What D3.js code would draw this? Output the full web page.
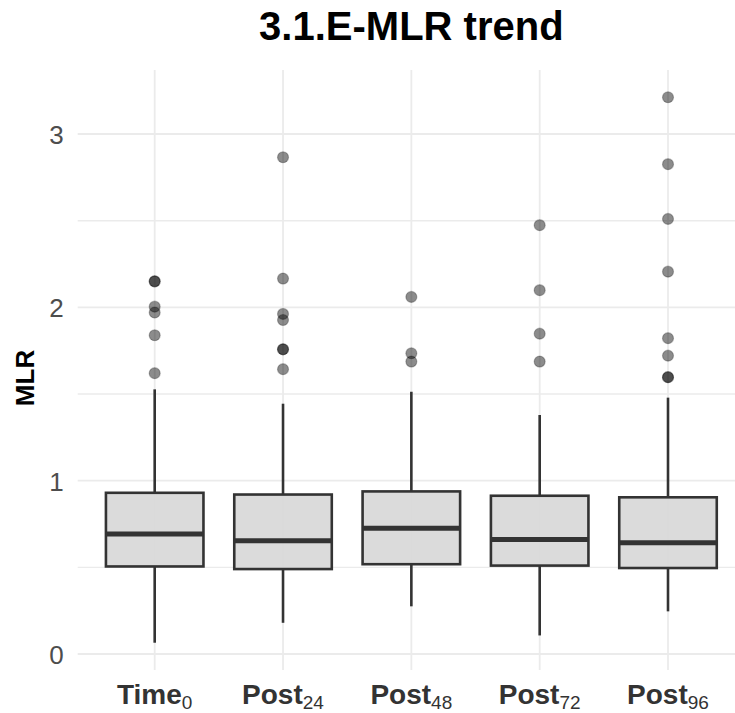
<!DOCTYPE html>
<html>
<head>
<meta charset="utf-8">
<script src="https://cdn.jsdelivr.net/npm/d3@7"></script>
<style>
  html, body { margin: 0; padding: 0; background: #fff; }
  svg { display: block; }
  text { font-family: "Liberation Sans", Arial, Helvetica, sans-serif; }
</style>
</head>
<body>
<div id="chart"></div>
<script>
// ---- data ----
const categories = ["Time", "Post", "Post", "Post", "Post"];
const subscripts = ["0", "24", "48", "72", "96"];
const q1 = [0.505, 0.490, 0.518, 0.510, 0.496];
const medians = [0.693, 0.654, 0.726, 0.660, 0.642];
const q3 = [0.930, 0.920, 0.938, 0.913, 0.904];
const whiskerLow = [0.065, 0.180, 0.275, 0.107, 0.246];
const whiskerHigh = [1.527, 1.444, 1.513, 1.379, 1.479];
const outliersTime0 = [2.150, 2.150, 2.004, 1.970, 1.839, 1.620];
const outliersPost24 = [2.866, 2.166, 1.962, 1.927, 1.758, 1.758, 1.643];
const outliersPost48 = [2.060, 1.735, 1.687];
const outliersPost72 = [2.474, 2.099, 1.848, 1.687];
const outliersPost96 = [3.212, 2.826, 2.510, 2.206, 1.822, 1.721, 1.597, 1.597];
const outliers = [outliersTime0, outliersPost24, outliersPost48, outliersPost72, outliersPost96];
const yTicks = [0, 1, 2, 3];
const yMinorTicks = [0.5, 1.5, 2.5];
const titleText = "3.1.E-MLR trend";
const yLabel = "MLR";

// ---- layout ----
const W = 735, H = 713;
const panel = { left: 77.7, right: 745, top: 70, bottom: 670 };

const svg = d3.select("#chart").append("svg")
  .attr("width", W).attr("height", H);

const idx = categories.map((d, i) => i);

const x = d3.scalePoint()
  .domain(idx)
  .range([panel.left, panel.right])
  .padding(0.6);

const allVals = whiskerLow.concat(whiskerHigh, ...outliers);
const lo = d3.min(allVals), hi = d3.max(allVals);
const pad = (hi - lo) * 0.05;
const y = d3.scaleLinear()
  .domain([lo - pad, hi + pad])
  .range([panel.bottom, panel.top]);

const boxW = x.step() * 0.76;

// ---- grid ----
const grid = svg.append("g");
grid.selectAll("line.hminor").data(yMinorTicks).join("line")
  .attr("x1", panel.left).attr("x2", panel.right)
  .attr("y1", d => y(d)).attr("y2", d => y(d))
  .attr("stroke", "#ebebeb").attr("stroke-width", 1.4);
grid.selectAll("line.hmajor").data(yTicks).join("line")
  .attr("x1", panel.left).attr("x2", panel.right)
  .attr("y1", d => y(d)).attr("y2", d => y(d))
  .attr("stroke", "#ebebeb").attr("stroke-width", 1.8);
grid.selectAll("line.v").data(idx).join("line")
  .attr("x1", d => x(d)).attr("x2", d => x(d))
  .attr("y1", panel.top).attr("y2", panel.bottom)
  .attr("stroke", "#ebebeb").attr("stroke-width", 1.8);

// ---- y axis via d3 axis ----
const yAxis = svg.append("g")
  .attr("transform", `translate(${panel.left - 14},0)`)
  .call(d3.axisLeft(y).tickValues(yTicks).tickSize(0).tickPadding(0).tickFormat(d3.format("d")));
yAxis.select(".domain").remove();
yAxis.selectAll("text")
  .attr("fill", "#4d4d4d")
  .style("font-size", "26px")
  .attr("dy", "0.36em");

// ---- x axis labels ----
const xl = svg.append("g");
idx.forEach(i => {
  const t = xl.append("text")
    .attr("x", x(i)).attr("y", 704)
    .attr("text-anchor", "middle")
    .attr("fill", "#333333");
  t.append("tspan").text(categories[i])
    .style("font-size", "28px").style("font-weight", "bold");
  t.append("tspan").text(subscripts[i])
    .attr("dy", 5)
    .style("font-size", "19px").style("font-weight", "normal");
});

// ---- y label ----
svg.append("text")
  .attr("transform", `translate(34,${(panel.top + panel.bottom) / 2 + 8}) rotate(-90)`)
  .attr("text-anchor", "middle")
  .style("font-size", "26px").style("font-weight", "bold")
  .attr("fill", "#000")
  .text(yLabel);

// ---- title ----
svg.append("text")
  .attr("x", (panel.left + panel.right) / 2).attr("y", 40)
  .attr("text-anchor", "middle")
  .style("font-size", "40px").style("font-weight", "bold")
  .attr("fill", "#000")
  .text(titleText);

// ---- boxplots ----
const g = svg.append("g");
const stroke = "#333333";
// whiskers
g.selectAll("line.wh").data(idx).join("line")
  .attr("x1", d => x(d)).attr("x2", d => x(d))
  .attr("y1", d => y(q3[d])).attr("y2", d => y(whiskerHigh[d]))
  .attr("stroke", stroke).attr("stroke-width", 2.6);
g.selectAll("line.wl").data(idx).join("line")
  .attr("x1", d => x(d)).attr("x2", d => x(d))
  .attr("y1", d => y(q1[d])).attr("y2", d => y(whiskerLow[d]))
  .attr("stroke", stroke).attr("stroke-width", 2.6);
// boxes
g.selectAll("rect.box").data(idx).join("rect")
  .attr("x", d => x(d) - boxW / 2)
  .attr("width", boxW)
  .attr("y", d => y(q3[d]))
  .attr("height", d => y(q1[d]) - y(q3[d]))
  .attr("fill", "#d9d9d9").attr("fill-opacity", 0.95)
  .attr("stroke", stroke).attr("stroke-width", 2.6);
// medians
g.selectAll("line.med").data(idx).join("line")
  .attr("x1", d => x(d) - boxW / 2).attr("x2", d => x(d) + boxW / 2)
  .attr("y1", d => y(medians[d])).attr("y2", d => y(medians[d]))
  .attr("stroke", stroke).attr("stroke-width", 5);

// outliers
const pts = [];
outliers.forEach((arr, i) => arr.forEach(v => pts.push({ i, v })));
g.selectAll("circle.out").data(pts).join("circle")
  .attr("cx", d => x(d.i)).attr("cy", d => y(d.v))
  .attr("r", 5.5)
  .attr("fill", "#000").attr("fill-opacity", 0.45)
  .attr("stroke", "#000").attr("stroke-opacity", 0.25).attr("stroke-width", 1.2);
</script>
</body>
</html>
